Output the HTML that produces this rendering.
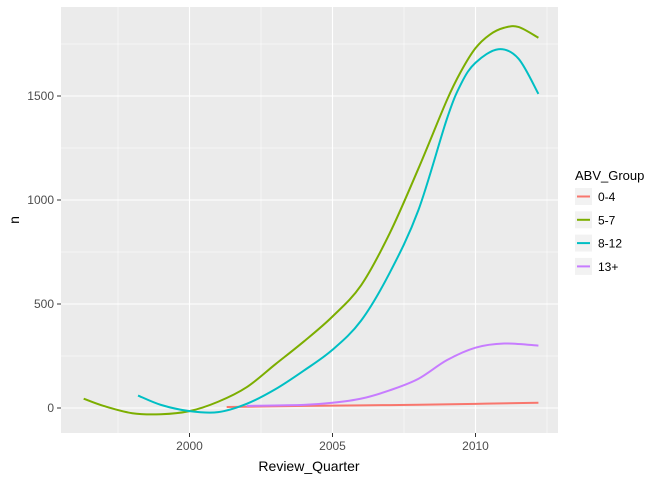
<!DOCTYPE html>
<html><head><meta charset="utf-8"><style>
body{margin:0;background:#fff;font-family:"Liberation Sans",sans-serif}
svg text{font-family:"Liberation Sans",sans-serif}
</style></head><body>
<svg id="chart" width="672" height="480">
<rect x="61" y="7" width="497" height="426" fill="#ebebeb"/>
<g id="grid"></g><g id="series"></g><g id="axes"></g>
<text x="309" y="471" font-size="14" text-anchor="middle" fill="#000">Review_Quarter</text>
<text x="19" y="220" font-size="14" text-anchor="middle" fill="#000" transform="rotate(-90 19 220)">n</text>
<g id="legend">
<text x="575" y="180" font-size="13">ABV_Group</text>
</g>
</svg>
<script>
const years=[2000,2005,2010];
const yTicks=[0,500,1000,1500];
const groups=["0-4","5-7","8-12","13+"];
const colors=["#F8766D","#7CAE00","#00BFC4","#C77CFF"];
const x04=[2001.3,2004,2007,2010,2012.2];
const y04=[5,10,14,20,25];
const x57=[1996.3,1997,1998,1999,2000,2001,2002,2003,2004,2005,2006,2007,2008,2009,2009.5,2010,2010.5,2011,2011.5,2012.2];
const y57=[45,10,-25,-30,-15,30,100,210,320,440,590,840,1150,1480,1620,1730,1795,1828,1832,1780];
const x812=[1998.2,1999,2000,2001,2002,2003,2004,2005,2006,2007,2008,2009,2009.5,2010,2010.8,2011.5,2012.2];
const y812=[60,15,-15,-20,20,90,180,280,420,650,950,1390,1560,1660,1725,1680,1510];
const x13=[2002,2004,2005,2006,2007,2008,2009,2010,2011,2012.2];
const y13=[10,15,25,45,85,140,230,290,310,300];
const NS="http://www.w3.org/2000/svg";
const X=v=>189.5+(v-2000)*28.6;
const Y=v=>408-v*0.208;
function mk(t,a,p){const e=document.createElementNS(NS,t);for(const k in a)e.setAttribute(k,a[k]);document.getElementById(p).appendChild(e);return e;}
for(let v=1997.5;v<=2013;v+=2.5){const l=mk('line',{x1:X(v),x2:X(v),y1:7,y2:433,stroke:'#fff','stroke-width':(v%5===0)?1.1:0.5},'grid');

}
for(let v=-250;v<=1750;v+=250){const l=mk('line',{x1:61,x2:558,y1:Y(v),y2:Y(v),stroke:'#fff','stroke-width':(v%500===0)?1.1:0.5},'grid');

}
years.forEach(v=>{mk('line',{x1:X(v),x2:X(v),y1:433,y2:437,stroke:'#333'},'axes');
const t=mk('text',{x:X(v),y:450,'font-size':12,'text-anchor':'middle',fill:'#4d4d4d'},'axes');t.textContent=v;

});
yTicks.forEach(v=>{mk('line',{x1:57,x2:61,y1:Y(v),y2:Y(v),stroke:'#333'},'axes');
const t=mk('text',{x:54,y:Y(v)+4,'font-size':12,'text-anchor':'end',fill:'#4d4d4d'},'axes');t.textContent=v;

});
function smooth(xs,ys){const p=xs.map((x,i)=>[X(x),Y(ys[i])]);let d=`M${p[0][0]},${p[0][1]}`;
for(let i=0;i<p.length-1;i++){const p0=p[i-1]||p[i],p1=p[i],p2=p[i+1],p3=p[i+2]||p2;
d+=` C${p1[0]+(p2[0]-p0[0])/6},${p1[1]+(p2[1]-p0[1])/6} ${p2[0]-(p3[0]-p1[0])/6},${p2[1]-(p3[1]-p1[1])/6} ${p2[0]},${p2[1]}`;}return d;}
const data=[[x04,y04],[x57,y57],[x812,y812],[x13,y13]];
data.forEach((s,i)=>{const p=mk('path',{d:smooth(s[0],s[1]),fill:'none',stroke:colors[i],'stroke-width':2},'series');

});
groups.forEach((g,i)=>{const y=188+i*23.3;
const r=mk('rect',{x:575,y:y,width:17,height:17,fill:'#f2f2f2'},'legend');


mk('line',{x1:577,x2:590,y1:y+8.5,y2:y+8.5,stroke:colors[i],'stroke-width':2},'legend');
const t=mk('text',{x:598,y:y+13,'font-size':12,fill:'#000'},'legend');t.textContent=g;

});
</script>
</body></html>
